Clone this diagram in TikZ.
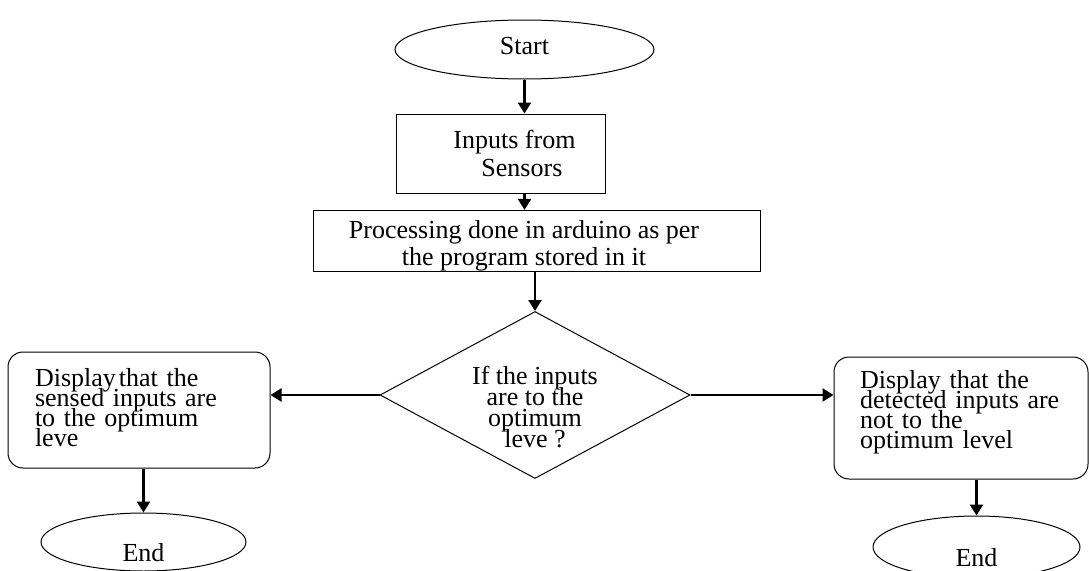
\documentclass[tikz,border=0pt]{standalone}
\usepackage{fontspec}
\setmainfont{Liberation Serif}
\usetikzlibrary{shapes.geometric,arrows.meta}
\begin{document}
\begin{tikzpicture}[x=1pt,y=-1pt,
  every node/.style={font={\fontsize{26}{20}\selectfont\lineskiplimit=-50pt}},
  term/.style={draw, ellipse, inner sep=0pt, line width=1pt},
  procbox/.style={draw, rectangle, inner sep=0pt, line width=1pt},
  dispbox/.style={draw, rectangle, rounded corners=15pt, align=left, inner ysep=0pt, line width=1pt},
  decision/.style={draw, diamond, inner sep=-3pt, shape aspect=1.86, align=center, line width=1pt},
  arr/.style={line width=2.4pt, -{Triangle[length=11pt,width=13pt]}}]
\useasboundingbox (0,0) rectangle (1089,570);

\node[term, minimum width=259pt, minimum height=59pt] (start) at (524.5,49.5) {\rule[-7pt]{0pt}{7pt}Start};
\node[procbox, minimum width=209pt, minimum height=79pt, align=left,
      font={\fontsize{26}{28}\selectfont\lineskiplimit=-50pt}] (inputs) at (500.5,153.5)
      {\rule{28pt}{0pt}Inputs from\\\rule{56pt}{0pt}Sensors};
\node[procbox, minimum width=447pt, minimum height=56pt, align=center,
      font={\fontsize{26}{27}\selectfont\lineskiplimit=-50pt}] (proc) at (536.5,241)
      {\rule{0pt}{28.6pt}Processing done in arduino as per\rule{25pt}{0pt}\\the program stored in it\rule{25pt}{0pt}};
\node[decision, minimum width=310pt, minimum height=167pt,
      font={\fontsize{26}{21}\selectfont\lineskiplimit=-50pt}] (dec) at (535,395)
      {\rule{0pt}{43pt}If the inputs\\are to the\\optimum\\leve ?};
\node[dispbox, minimum height=116pt, text width=208pt, inner xsep=27pt] (lbox) at (139,410)
      {Display\hspace{3pt}that the\\sensed inputs are\\to the optimum\\leve\rule[-6pt]{0pt}{0pt}};
\node[dispbox, minimum height=122pt, text width=202pt, inner xsep=26pt] (rbox) at (961,418)
      {Display that  the\\detected inputs are\\not to the\\optimum level\rule[-17pt]{0pt}{0pt}};
\node[term, minimum width=205pt, minimum height=58pt] (lend) at (143.5,542) {\rule{0pt}{40pt}End};
\node[term, minimum width=207pt, minimum height=62pt] (rend) at (976.5,547) {\rule{0pt}{40pt}End};

\draw[arr] (start.south) -- (start.south |- inputs.north);
\draw[arr] (inputs.south -| start.south) -- (proc.north -| start.south);
\draw[arr] (proc.south -| dec.north) -- (dec.north);
\draw[arr] (dec.west) -- (dec.west -| lbox.east);
\draw[arr] (dec.east) -- (dec.east -| rbox.west);
\draw[arr] (lbox.south -| lend.north) -- (lend.north);
\draw[arr] (rbox.south -| rend.north) -- (rend.north);
\end{tikzpicture}
\end{document}
